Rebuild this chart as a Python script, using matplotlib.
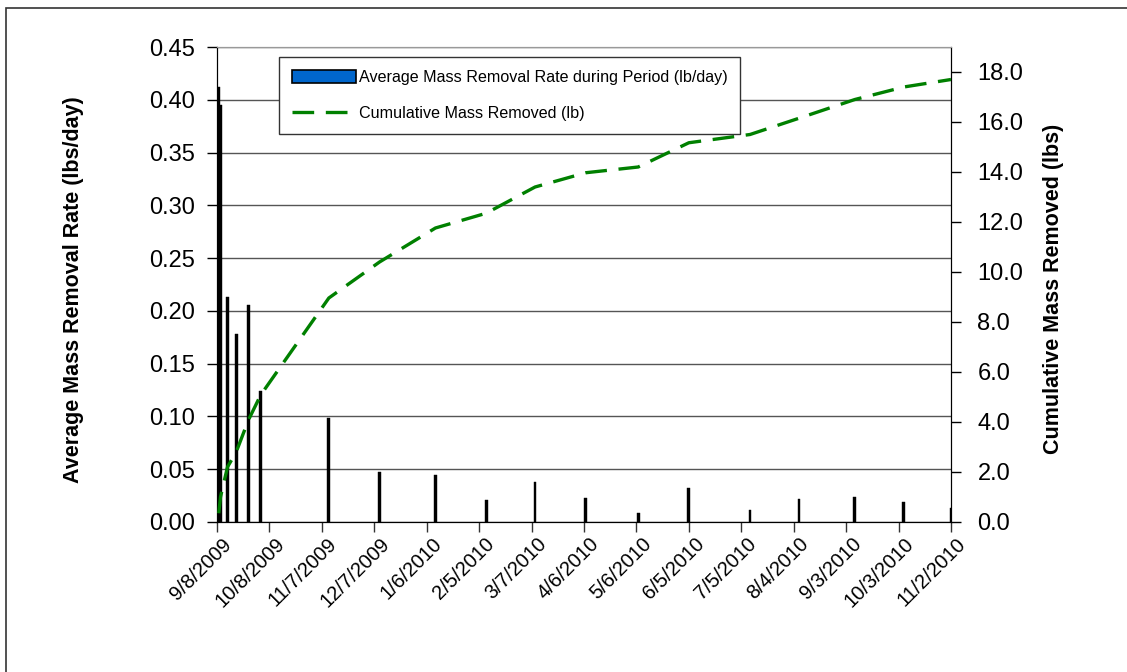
import matplotlib
matplotlib.use("Agg")
import matplotlib.pyplot as plt
import matplotlib.transforms as mtransforms
from matplotlib.patches import Rectangle, Patch
from matplotlib.lines import Line2D
import pandas as pd
import numpy as np

plt.rcParams['font.family'] = ['Liberation Sans', 'DejaVu Sans']

# sample dates (end of each averaging period)
dates = ["9/9/2009", "9/10/2009", "9/14/2009", "9/19/2009", "9/26/2009", "10/3/2009",
         "11/11/2009", "12/10/2009", "1/11/2010", "2/9/2010", "3/9/2010", "4/7/2010",
         "5/7/2010", "6/5/2010", "7/10/2010", "8/7/2010", "9/8/2010", "10/6/2010", "11/2/2010"]

# average mass removal rate (lb/day)
rate = [0.412, 0.395, 0.213, 0.178, 0.206, 0.124,
        0.0987, 0.047, 0.045, 0.021, 0.038, 0.023,
        0.0083, 0.032, 0.011, 0.022, 0.0236, 0.0188, 0.0134]

# cumulative mass removed (lb)
cumulative = [0.35, 1.0, 2.2, 2.8, 4.08, 5.08,
              8.96, 10.4, 11.76, 12.35, 13.4, 13.97,
              14.2, 15.17, 15.5, 16.15, 16.9, 17.4, 17.7]

tick_dates = ["9/8/2009", "10/8/2009", "11/7/2009", "12/7/2009", "1/6/2010", "2/5/2010",
              "3/7/2010", "4/6/2010", "5/6/2010", "6/5/2010", "7/5/2010", "8/4/2010",
              "9/3/2010", "10/3/2010", "11/2/2010"]

x = pd.to_datetime(dates, format="%m/%d/%Y")
xt = pd.to_datetime(tick_dates, format="%m/%d/%Y")

W, H = 1127, 672
fig = plt.figure(figsize=(W / 100, H / 100), dpi=100)

# outer chart border (left and top edges visible)
fig.patches.append(Rectangle((5.5 / W, -0.1), 1.2, 1 - 7.5 / H + 0.1, transform=fig.transFigure,
                             fill=False, edgecolor='#333333', linewidth=1.2))

ax = fig.add_axes([217 / W, 1 - 522 / H, (951 - 217) / W, (522 - 47) / H])
ax2 = ax.twinx()

# gridlines
ax.set_axisbelow(True)
ax.yaxis.grid(True, color='#555555', linewidth=1.0)

ax.bar(x, rate, width=1.6, color='black', edgecolor='black', linewidth=0.3, zorder=2)
ax2.plot(x, cumulative, color='#008000', linewidth=2.4, dashes=(6.5, 3.5), zorder=3)

ax.set_xlim(xt[0], xt[-1])
ax.set_ylim(0, 0.45)
ax.set_yticks(np.arange(0, 0.46, 0.05))
ax.yaxis.set_major_formatter(matplotlib.ticker.FormatStrFormatter('%.2f'))
ax2.set_ylim(0, 19)
ax2.set_yticks(np.arange(0, 18.1, 2))
ax2.yaxis.set_major_formatter(matplotlib.ticker.FormatStrFormatter('%.1f'))

ax.set_xticks(xt)
ax.set_xticklabels([f"{d.month}/{d.day}/{d.year}" for d in xt], rotation=45,
                   ha='right', va='center', rotation_mode='anchor', fontsize=14.5)
ax.tick_params(axis='x', direction='out', length=7, width=1, pad=9, colors='#333333',
               labelcolor='black')
shift = mtransforms.ScaledTranslation(12 / 100, 3 / 100, fig.dpi_scale_trans)
for lbl in ax.get_xticklabels():
    lbl.set_transform(lbl.get_transform() + shift)

ax.tick_params(axis='y', direction='out', length=7, width=1, labelsize=17, pad=9)
ax2.tick_params(axis='y', direction='out', length=7, width=1, labelsize=17, pad=12)

for a in (ax, ax2):
    a.spines['top'].set_color('#999999')
    a.spines['left'].set_color('black')
    a.spines['right'].set_color('black')
    a.spines['bottom'].set_color('black')

ax.set_ylabel('Average Mass Removal Rate (lbs/day)', fontsize=15.5, fontweight='bold')
ax.yaxis.set_label_coords((84 - 217) / (951 - 217), 0.49)
ax2.set_ylabel('Cumulative Mass Removed (lbs)', fontsize=15.5, fontweight='bold')
ax2.yaxis.set_label_coords((1043 - 217) / (951 - 217), 0.49)

handles = [Patch(facecolor='#0066CC', edgecolor='black', linewidth=1.2),
           Line2D([0], [0], color='#008000', linewidth=2.4, dashes=(6.5, 3.5))]
labels = ['Average Mass Removal Rate during Period (lb/day)', 'Cumulative Mass Removed (lb)']
leg = ax2.legend(handles, labels, loc='upper left',
                 bbox_to_anchor=((279 - 217) / (951 - 217), 1 - (57 - 47) / (522 - 47)),
                 fontsize=11.6, frameon=True, fancybox=False, edgecolor='#333333', framealpha=1,
                 handlelength=4.0, handleheight=0.9, borderpad=0.8, labelspacing=1.3,
                 handletextpad=0.15, borderaxespad=0)
leg.get_frame().set_linewidth(1.0)

fig.savefig('out.png', dpi=100)
